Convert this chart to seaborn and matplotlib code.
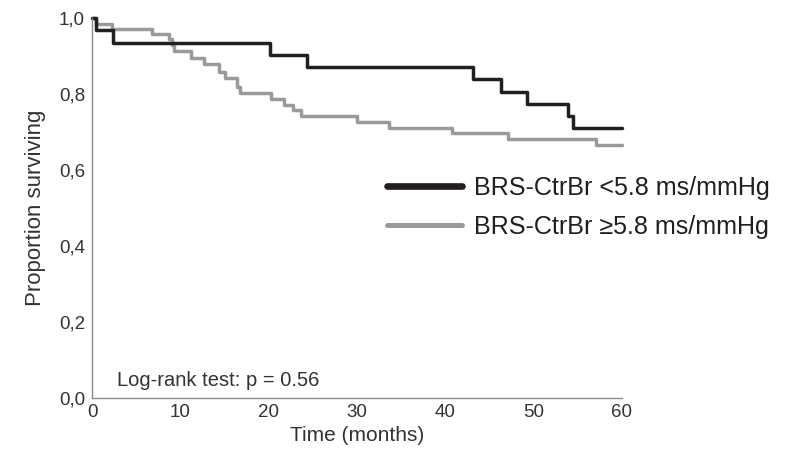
import numpy as np
import pandas as pd
import matplotlib
matplotlib.use("Agg")
import matplotlib.pyplot as plt
from matplotlib.lines import Line2D
from matplotlib.ticker import FuncFormatter
import seaborn as sns

# Kaplan-Meier step data (months, survival proportion)
low_brs_times = [0, 0.4, 2.4, 20.1, 24.3, 43.1, 46.3, 49.2, 53.9, 54.4, 60]
low_brs_surv = [1.0, 0.968, 0.935, 0.903, 0.871, 0.839, 0.806, 0.774, 0.742, 0.710, 0.710]

high_brs_times = [0, 0.5, 2.3, 6.8, 8.7, 9.0, 9.3, 11.2, 12.7, 14.4, 15.0, 16.4, 16.8,
                  20.3, 21.7, 22.8, 23.7, 30.0, 33.6, 40.7, 47.1, 57.1, 60]
high_brs_surv = [1.0, 0.985, 0.971, 0.957, 0.945, 0.930, 0.913, 0.895, 0.879, 0.858, 0.842,
                 0.818, 0.803, 0.787, 0.771, 0.758, 0.742, 0.726, 0.711, 0.697, 0.682,
                 0.666, 0.666]

group_labels = ["BRS-CtrBr <5.8 ms/mmHg", "BRS-CtrBr \u22655.8 ms/mmHg"]
group_colors = ["#231f20", "#9a9a9a"]

x_ticks = [0, 10, 20, 30, 40, 50, 60]
y_ticks = [0.0, 0.2, 0.4, 0.6, 0.8, 1.0]
annotation = "Log-rank test: p = 0.56"

sns.set_style("white")
plt.rcParams["font.family"] = ["Liberation Sans", "DejaVu Sans"]

df = pd.concat([
    pd.DataFrame({"time": low_brs_times, "surv": low_brs_surv, "group": group_labels[0]}),
    pd.DataFrame({"time": high_brs_times, "surv": high_brs_surv, "group": group_labels[1]}),
])

fig = plt.figure(figsize=(7.85, 4.58), dpi=100)
ax = fig.add_axes([92 / 785, 1 - 398 / 458, 530 / 785, 380 / 458])

sns.lineplot(data=df, x="time", y="surv", hue="group", hue_order=group_labels[::-1],
             palette=dict(zip(group_labels, group_colors)), estimator=None,
             drawstyle="steps-post", linewidth=2.5, legend=False, ax=ax, clip_on=False)

ax.set_xlim(0, 60)
ax.set_ylim(0, 1.0)
ax.set_xticks(x_ticks)
ax.set_yticks(y_ticks)
ax.yaxis.set_major_formatter(FuncFormatter(lambda v, _: f"{v:.1f}".replace(".", ",")))

for side in ("top", "right"):
    ax.spines[side].set_visible(False)
for side in ("left", "bottom"):
    ax.spines[side].set_color("#8a8a8a")
    ax.spines[side].set_linewidth(1.0)

ax.tick_params(axis="x", direction="inout", length=4, width=0.8, color="#8a8a8a",
               labelsize=13.5, labelcolor="#333333", pad=2)
ax.tick_params(axis="y", direction="out", length=3, width=0.8, color="#8a8a8a",
               labelsize=13.5, labelcolor="#333333", pad=2)

ax.set_xlabel("Time (months)", fontsize=15, color="#333333", labelpad=4)
ax.set_ylabel("Proportion surviving", fontsize=16, color="#333333", labelpad=9)

ax.text(0.047, 0.047, annotation, transform=ax.transAxes, fontsize=14.5,
        color="#333333", va="center", ha="left")

handles = [Line2D([], [], color=group_colors[0], linewidth=4.8),
           Line2D([], [], color=group_colors[1], linewidth=3.6)]
fig.legend(handles, group_labels, loc="upper left",
           bbox_to_anchor=(387 / 785, 1 - 176 / 458), frameon=False,
           fontsize=18.1, handlelength=3.0, handletextpad=0.48, labelspacing=0.6,
           borderpad=0, borderaxespad=0, labelcolor="#231f20")

fig.savefig("out.png", dpi=100)
